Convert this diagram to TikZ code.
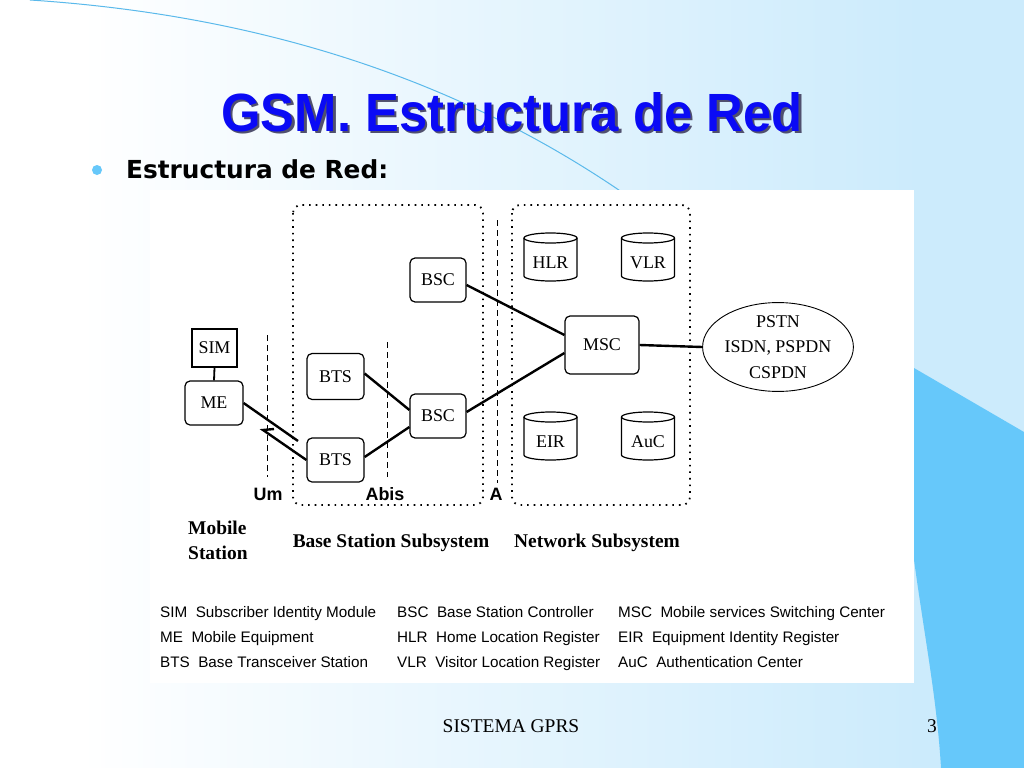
\documentclass[tikz,border=0pt]{standalone}
\usepackage{fontspec}
\setmainfont{Liberation Serif}
\newfontfamily\arialf{Liberation Sans}
\newfontfamily\comicf{DejaVu Sans}
\usetikzlibrary{shapes.geometric}
\definecolor{bgblue}{RGB}{204,235,252}
\definecolor{darkblue}{RGB}{102,200,250}
\definecolor{arcblue}{RGB}{90,185,235}
\definecolor{titleblue}{RGB}{10,10,245}
\definecolor{shadowc}{RGB}{80,80,110}
\newcommand\gsmcyl[4]{%
  \draw[cylst] (#2,{#3-19}) ellipse[x radius=26.5, y radius=5];
  \draw[cylst] ({#2-26.5},{#3-19}) -- ({#2-26.5},{#3+19})
     arc[start angle=180, end angle=0, x radius=26.5, y radius=5] -- ({#2+26.5},{#3-19});
  \node[nodetext] (#1) at (#2,{#3+6}) {#4};
}
\begin{document}
\begin{tikzpicture}[x=1bp,y=-1bp,
  box/.style={draw, line width=1.2bp, rounded corners=5bp, inner sep=0, fill=white,
              font=\fontsize{18}{20}\selectfont},
  nodetext/.style={inner sep=0, font=\fontsize{18}{20}\selectfont},
  cylst/.style={line width=1.2bp},
  link/.style={line width=2.4bp},
  zone/.style={line width=1.8bp, dash pattern=on 1.6bp off 5bp, rounded corners=8bp},
  iface/.style={line width=1bp, dash pattern=on 6bp off 4bp},
  lbl/.style={inner sep=0, font=\arialf\bfseries\fontsize{18}{18}\selectfont},
  sub/.style={inner sep=0, font=\bfseries\fontsize{19.5}{21}\selectfont},
  leg/.style={anchor=base west, inner sep=0, font=\arialf\fontsize{15.3}{15.3}\selectfont}]
\useasboundingbox (0,0) rectangle (1024,768);
% background
\fill[white] (0,0) rectangle (1024,768);
\shade[left color=white, right color=bgblue] (80,0) rectangle (920,768);
\fill[bgblue] (919,0) rectangle (1024,768);
\fill[darkblue] (914,368) -- (1024,432) -- (1024,768) -- (941,768)
   .. controls (937,700) and (925,640) .. (914,560) -- cycle;
\draw[arcblue, line width=1bp] (30,0) .. controls (260,15) and (470,80) .. (650,212);
% white panel
\fill[white] (150,190) rectangle (914,683);
% title
\node[anchor=base, inner sep=0, text=shadowc] (titleshadow) at (514.5,133.5)
   {\resizebox{581bp}{39bp}{\arialf\bfseries GSM. Estructura de Red}};
\node[anchor=base, inner sep=0, text=titleblue] (title) at (512,131)
   {\resizebox{581bp}{39bp}{\arialf\bfseries GSM. Estructura de Red}};
\fill[darkblue] (97,170) circle[radius=5];
\node[anchor=base west, inner sep=0] (subtitle) at (126,178)
   {\resizebox{262bp}{!}{\comicf\bfseries Estructura de Red:}};
% zones
\draw[zone] (293,205) rectangle (483,505);
\draw[zone] (512,205) rectangle (690,505);
\draw[iface] (267,335) -- (267,477);
\draw[iface] (387,342) -- (387,477);
\draw[iface] (497,220) -- (497,483);
\node[lbl] (um) at (268,494) {Um};
\node[lbl] (abis) at (385,494) {Abis};
\node[lbl] (aif) at (496,494) {A};
% nodes
\node[draw, line width=1.2bp, inner sep=0, minimum width=45bp, minimum height=38bp,
      font=\fontsize{18}{20}\selectfont] (sim) at (214.5,348) {SIM};
\node[box, minimum width=58bp, minimum height=44bp] (me) at (214,403) {ME};
\node[box, minimum width=57bp, minimum height=46bp] (bts1) at (335.5,376.5) {BTS};
\node[box, minimum width=57bp, minimum height=44bp] (bts2) at (335.5,460) {BTS};
\node[box, minimum width=56bp, minimum height=44bp] (bsc1) at (438,280) {BSC};
\node[box, minimum width=56bp, minimum height=44bp] (bsc2) at (438,416) {BSC};
\node[box, minimum width=74bp, minimum height=58bp] (msc) at (602,345) {MSC};
\node[draw, ellipse, line width=0.9bp, inner sep=0, minimum width=142bp, minimum height=86bp,
      align=center, font=\fontsize{18}{25.5}\selectfont] (pstn) at (778,347)
      {PSTN\\ISDN, PSPDN\\CSPDN};
\gsmcyl{hlr}{550.5}{257}{HLR}
\gsmcyl{vlr}{648}{257}{VLR}
\gsmcyl{eir}{550.5}{436}{EIR}
\gsmcyl{auc}{648}{436}{AuC}
% connectors
\draw[line width=1.8bp] (sim.south) -- (me.north);
\coordinate (rtip) at (298,441);
\coordinate (rzig) at (263,430);
\coordinate (rzig2) at (274,429);
\draw[link] (me.east) -- (rtip);
\draw[link] (rzig2) -- (rzig) -- (bts2.west);
\draw[link] ([yshift=3bp]bts1.east) -- ([yshift=6bp]bsc2.west);
\draw[link] ([yshift=3bp]bts2.east) -- ([yshift=-11bp]bsc2.west);
\draw[link] ([yshift=-5bp]bsc1.east) -- ([yshift=10bp]msc.west);
\draw[link] ([yshift=4bp]bsc2.east) -- ([yshift=-8bp]msc.west);
\draw[link] (msc.east) -- (pstn.west);
% subsystem labels
\node[sub, anchor=west, align=left, font=\bfseries\fontsize{19.5}{25}\selectfont] (ms) at (188,540) {Mobile\\Station};
\node[sub] (bss) at (391,543) {Base Station Subsystem};
\node[sub] (nss) at (597,543) {Network Subsystem};
% legend
\node[leg] (l1) at (160,617) {SIM\ \ Subscriber Identity Module};
\node[leg] (l2) at (160,642) {ME\ \ Mobile Equipment};
\node[leg] (l3) at (160,667) {BTS\ \ Base Transceiver Station};
\node[leg] (l4) at (397,617) {BSC\ \ Base Station Controller};
\node[leg] (l5) at (397,642) {HLR\ \ Home Location Register};
\node[leg] (l6) at (397,667) {VLR\ \ Visitor Location Register};
\node[leg] (l7) at (618,617) {MSC\ \ Mobile services Switching Center};
\node[leg] (l8) at (618,642) {EIR\ \ Equipment Identity Register};
\node[leg] (l9) at (618,667) {AuC\ \ Authentication Center};
% footer
\node[anchor=base, inner sep=0, font=\fontsize{19.5}{19.5}\selectfont] (footer) at (511,732) {SISTEMA GPRS};
\node[anchor=base, inner sep=0, font=\fontsize{19.5}{19.5}\selectfont] (pagenum) at (932,732) {3};
\end{tikzpicture}
\end{document}
